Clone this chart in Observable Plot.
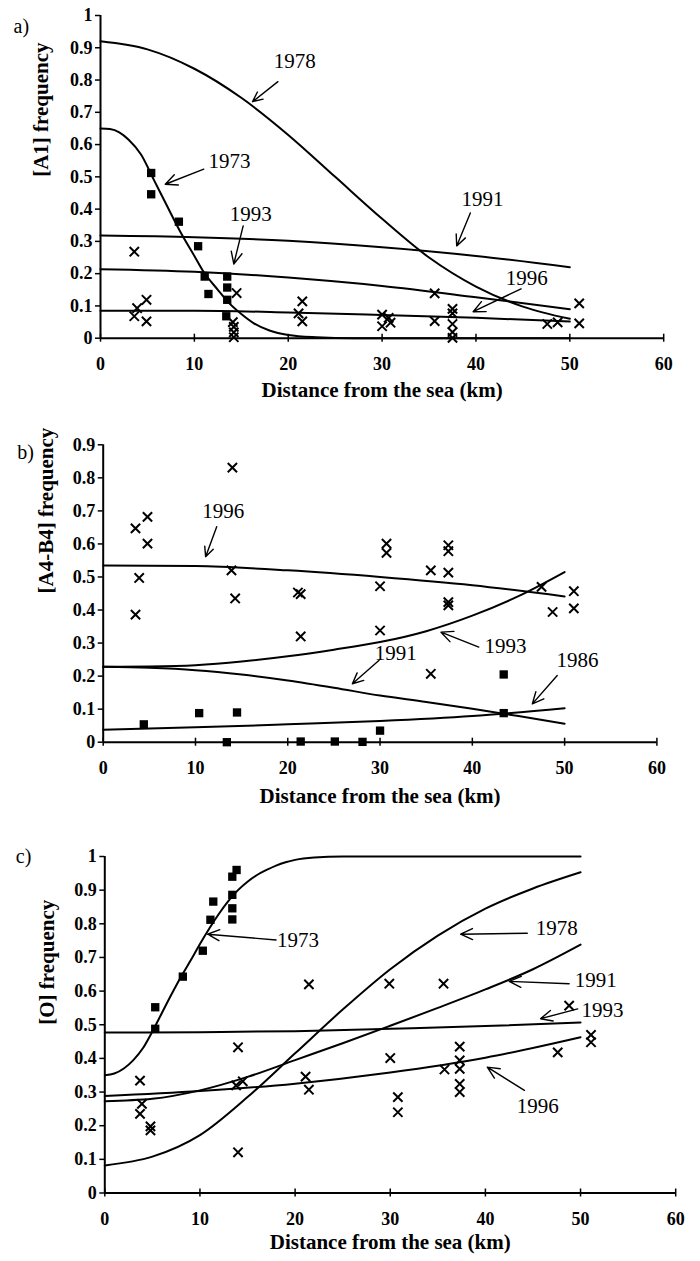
<!DOCTYPE html>
<html><head><meta charset="utf-8">
<script src="https://cdn.jsdelivr.net/npm/d3@7"></script>
<script src="https://cdn.jsdelivr.net/npm/@observablehq/plot@0.6"></script>
<style>
body{margin:0;background:#fff;}
#chart{width:700px;}
#chart svg{display:block;}
</style></head><body><div id="chart"></div>
<script>
// ---------- shared ----------
const distTicks = [0, 10, 20, 30, 40, 50, 60];
const freqTicksTo1 = [0, 0.1, 0.2, 0.3, 0.4, 0.5, 0.6, 0.7, 0.8, 0.9, 1];
const freqTicksTo09 = [0, 0.1, 0.2, 0.3, 0.4, 0.5, 0.6, 0.7, 0.8, 0.9];
const xTitle = "Distance from the sea (km)";

// ---------- panel a : [A1] ----------
const a1973 = [[0,0.65],[1,0.648],[2,0.638],[3,0.615],[4.3,0.57],[5.7,0.49],[7,0.415],[8.5,0.33],[10,0.255],[11,0.205],[12.5,0.15],[13.5,0.115],[15,0.075],[16.3,0.047],[18,0.024],[20,0.01],[23,0.003],[27,0],[50,0]];
const a1978 = [[0,0.92],[5,0.895],[10,0.835],[15,0.745],[20,0.63],[25,0.5],[30,0.37],[35,0.25],[40,0.16],[45,0.098],[50,0.06]];
const a1991 = [[0,0.318],[10,0.313],[20,0.302],[30,0.282],[40,0.255],[50,0.22]];
const a1993 = [[0,0.214],[10,0.206],[20,0.188],[30,0.162],[40,0.127],[50,0.09]];
const a1996 = [[0,0.085],[10,0.085],[20,0.08],[30,0.072],[40,0.063],[50,0.052]];
const aSquares = [[5.4,0.512],[5.4,0.446],[8.35,0.361],[10.4,0.285],[11.1,0.191],[11.5,0.137],[13.5,0.191],[13.5,0.157],[13.5,0.119],[13.4,0.068]];
const aCrosses = [[3.6,0.268],[3.9,0.093],[4.9,0.119],[3.6,0.068],[4.9,0.052],[14.5,0.14],[14.1,0.05],[14.2,0.035],[14.2,0.018],[14.2,0.003],[21.5,0.114],[21.1,0.077],[21.5,0.052],[30,0.073],[30,0.037],[30.7,0.063],[30.9,0.048],[35.6,0.139],[35.6,0.053],[37.5,0.091],[37.5,0.077],[37.5,0.044],[37.5,0.019],[37.5,0.001],[47.6,0.044],[48.7,0.049],[51,0.108],[51,0.046]];
const aNotes = [
  {label:"1978", tx:20.7, ty:0.857, x1:18.9, y1:0.795, x2:16.2, y2:0.733},
  {label:"1973", tx:13.75, ty:0.549, x1:11.0, y1:0.524, x2:6.9, y2:0.477},
  {label:"1993", tx:16.0, ty:0.385, x1:15.2, y1:0.348, x2:14.2, y2:0.23},
  {label:"1991", tx:40.7, ty:0.431, x1:39.4, y1:0.388, x2:37.95, y2:0.286},
  {label:"1996", tx:45.4, ty:0.187, x1:44.8, y1:0.153, x2:39.7, y2:0.082}
];

// ---------- panel b : [A4-B4] ----------
const b1996 = [[0,0.535],[10,0.533],[20,0.52],[30,0.5],[40,0.475],[50,0.441]];
const b1993 = [[0,0.228],[5,0.229],[10,0.233],[15,0.244],[20,0.26],[25,0.28],[30,0.303],[35,0.336],[40,0.383],[45,0.442],[50,0.515]];
const b1991 = [[0,0.228],[5,0.225],[10,0.218],[15,0.205],[20,0.187],[25,0.165],[30,0.141],[35,0.122],[40,0.101],[45,0.079],[50,0.056]];
const b1986 = [[0,0.038],[10,0.045],[20,0.054],[30,0.064],[40,0.079],[50,0.103]];
const bSquares = [[4.4,0.054],[10.4,0.088],[14.5,0.09],[13.4,0],[21.4,0.002],[25.1,0.002],[28.1,0.001],[30,0.035],[43.4,0.205],[43.4,0.088]];
const bCrosses = [[14,0.831],[4.8,0.682],[3.5,0.647],[4.8,0.601],[3.9,0.497],[3.5,0.386],[13.9,0.52],[14.3,0.435],[21.1,0.453],[21.4,0.448],[21.4,0.32],[30,0.472],[30,0.338],[30.7,0.601],[30.7,0.573],[35.5,0.52],[35.5,0.207],[37.4,0.596],[37.4,0.578],[37.4,0.513],[37.4,0.424],[37.4,0.414],[47.5,0.47],[48.7,0.394],[51,0.457],[51,0.405]];
const bNotes = [
  {label:"1996", tx:13.0, ty:0.699, x1:12.3, y1:0.652, x2:11.1, y2:0.561},
  {label:"1993", tx:43.6, ty:0.29, x1:40.7, y1:0.288, x2:36.6, y2:0.333},
  {label:"1991", tx:31.7, ty:0.269, x1:29.9, y1:0.248, x2:27.0, y2:0.177},
  {label:"1986", tx:51.4, ty:0.247, x1:49.2, y1:0.202, x2:46.5, y2:0.116}
];

// ---------- panel c : [O] ----------
const c1973 = [[0,0.35],[1,0.355],[2,0.37],[3,0.395],[4,0.43],[5,0.48],[6,0.535],[7,0.59],[8,0.642],[9,0.69],[10,0.74],[11,0.787],[12,0.83],[13,0.868],[14,0.9],[15,0.925],[16,0.945],[17,0.96],[18,0.973],[19,0.983],[20,0.99],[22,0.997],[25,1],[50,1]];
const c1978 = [[0,0.082],[5,0.108],[10,0.172],[15,0.285],[20,0.415],[25,0.545],[30,0.665],[35,0.765],[40,0.845],[45,0.905],[50,0.953]];
const c1991 = [[0,0.273],[5,0.28],[10,0.305],[15,0.345],[20,0.395],[25,0.445],[30,0.497],[35,0.55],[40,0.605],[45,0.665],[50,0.738]];
const c1993 = [[0,0.477],[10,0.478],[20,0.481],[30,0.488],[40,0.496],[50,0.507]];
const c1996 = [[0,0.288],[10,0.303],[20,0.325],[30,0.358],[40,0.402],[50,0.463]];
const cSquares = [[13.85,0.96],[13.4,0.94],[13.4,0.886],[13.4,0.846],[13.4,0.813],[11.4,0.866],[11.1,0.812],[10.3,0.72],[8.2,0.643],[5.3,0.552],[5.3,0.488]];
const cCrosses = [[21.45,0.62],[29.9,0.622],[35.6,0.622],[48.8,0.557],[51.1,0.47],[51.1,0.448],[47.6,0.418],[37.3,0.435],[37.3,0.394],[37.3,0.369],[37.3,0.324],[37.3,0.3],[35.7,0.367],[30,0.401],[30.8,0.285],[30.8,0.24],[21.1,0.346],[21.45,0.307],[14,0.433],[14,0.121],[13.8,0.32],[14.5,0.332],[3.7,0.334],[3.9,0.265],[3.7,0.235],[4.8,0.198],[4.8,0.186]];
const cNotes = [
  {label:"1973", tx:20.3, ty:0.75, x1:18.0, y1:0.752, x2:10.8, y2:0.769},
  {label:"1978", tx:47.5, ty:0.787, x1:44.4, y1:0.772, x2:37.4, y2:0.769},
  {label:"1991", tx:51.6, ty:0.631, x1:48.8, y1:0.622, x2:42.5, y2:0.629},
  {label:"1993", tx:52.3, ty:0.542, x1:49.7, y1:0.547, x2:45.8, y2:0.518},
  {label:"1996", tx:45.5, ty:0.257, x1:44.1, y1:0.305, x2:40.2, y2:0.374}
];

// ---------- helpers ----------
const serif = "'Liberation Serif', 'Times New Roman', serif";
const fmt = d => (d === 0 ? "0" : d === 1 ? "1" : d.toFixed(1));
function rows(seriesObj) {
  const out = [];
  for (const [year, pts] of Object.entries(seriesObj)) for (const [km, f] of pts) out.push({year, km, f});
  return out;
}
const pts = arr => arr.map(([km, f]) => ({km, f}));

function panel(cfg) {
  return Plot.plot({
    width: 700, height: cfg.height,
    marginTop: cfg.mt, marginBottom: cfg.mb, marginLeft: cfg.ml, marginRight: cfg.mr,
    style: {fontFamily: serif, background: "white", color: "black", overflow: "visible"},
    x: {domain: [0, 60]},
    y: {domain: [0, cfg.yMax]},
    marks: [
      Plot.axisY({ticks: cfg.yTicks, tickFormat: fmt, tickSize: 5, tickPadding: 3, fontSize: 18, fontWeight: "bold", strokeWidth: 1.5, label: null}),
      Plot.axisX({ticks: distTicks, tickFormat: d => String(d), tickSize: 8, dy: -4, tickPadding: 15, fontSize: 18, fontWeight: "bold", strokeWidth: 1.5, label: null}),
      Plot.ruleY([0], {stroke: "black", strokeWidth: 2}),
      Plot.ruleX([0], {stroke: "black", strokeWidth: 2}),
      Plot.line(rows(cfg.curves), {x: "km", y: "f", z: "year", curve: "monotone-x", stroke: "black", strokeWidth: 2}),
      Plot.dot(pts(cfg.squares), {x: "km", y: "f", symbol: "square", r: 4.7, fill: "black", stroke: "none"}),
      Plot.dot(pts(cfg.crosses), {x: "km", y: "f", symbol: "times", r: 4.3, stroke: "black", strokeWidth: 2}),
      Plot.arrow(cfg.notes, {x1: "x1", y1: "y1", x2: "x2", y2: "y2", stroke: "black", strokeWidth: 1.4, headLength: 14, headAngle: 50}),
      Plot.text(cfg.notes, {x: "tx", y: "ty", text: "label", fontSize: 21, fill: "black"}),
      Plot.text([cfg.tag], {frameAnchor: "top-left", textAnchor: "start", dx: cfg.tagDx, dy: cfg.tagDy, fontSize: 20, fill: "black"}),
      Plot.text([cfg.yLabel], {frameAnchor: "left", rotate: -90, dx: cfg.yLabelDx, fontSize: 21, fontWeight: "bold", fill: "black"}),
      Plot.text([xTitle], {frameAnchor: "bottom", dy: cfg.xTitleDy, fontSize: 21, fontWeight: "bold", fill: "black"})
    ]
  });
}

const chart = document.getElementById("chart");
chart.append(panel({
  height: 415, mt: 15, mb: 77.3, ml: 100, mr: 36.8, yMax: 1, yTicks: freqTicksTo1,
  curves: {"1973": a1973, "1978": a1978, "1991": a1991, "1993": a1993, "1996": a1996},
  squares: aSquares, crosses: aCrosses, notes: aNotes,
  tag: "a)", tagDx: -87, tagDy: 3, yLabel: "[A1] frequency", yLabelDx: -59, xTitleDy: 59
}));
chart.append(panel({
  height: 415, mt: 29.3, mb: 88.3, ml: 102.7, mr: 43.6, yMax: 0.9, yTicks: freqTicksTo09,
  curves: {"1996": b1996, "1993": b1993, "1991": b1991, "1986": b1986},
  squares: bSquares, crosses: bCrosses, notes: bNotes,
  tag: "b)", tagDx: -86, tagDy: 0, yLabel: "[A4-B4] frequency", yLabelDx: -57, xTitleDy: 61
}));
chart.append(panel({
  height: 431, mt: 26, mb: 68.5, ml: 104.3, mr: 24.8, yMax: 1, yTicks: freqTicksTo1,
  curves: {"1973": c1973, "1978": c1978, "1991": c1991, "1993": c1993, "1996": c1996},
  squares: cSquares, crosses: cCrosses, notes: cNotes,
  tag: "c)", tagDx: -89, tagDy: -8, yLabel: "[O] frequency", yLabelDx: -58, xTitleDy: 56
}));
</script></body></html>
